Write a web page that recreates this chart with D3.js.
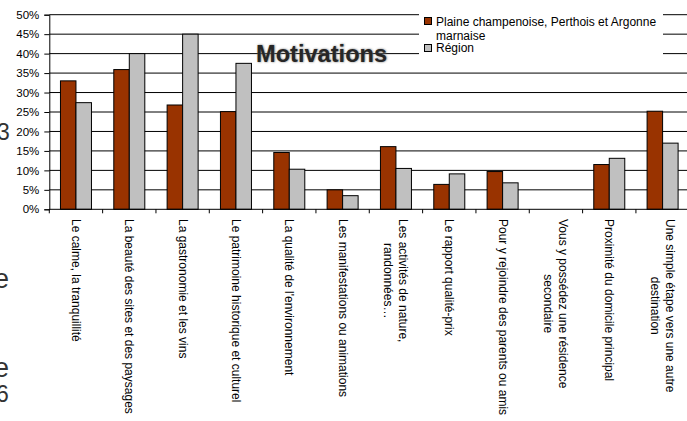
<!DOCTYPE html>
<html><head><meta charset="utf-8">
<script src="https://cdn.jsdelivr.net/npm/d3@7"></script>
<style>
html,body{margin:0;padding:0;background:#fff;}
svg{display:block;font-family:"Liberation Sans",Arial,sans-serif;}
</style></head>
<body>
<svg id="c" width="687" height="421"></svg>
<script>
const categories = [
  ["Le calme, la tranquillité"],
  ["La beauté des sites et des paysages"],
  ["La gastronomie et les vins"],
  ["Le patrimoine historique et culturel"],
  ["La qualité de l'environnement"],
  ["Les manifestations ou animations"],
  ["Les activités de nature,", "randonnées…"],
  ["Le rapport qualité-prix"],
  ["Pour y rejoindre des parents ou amis"],
  ["Vous y possédez une résidence", "secondaire"],
  ["Proximité du domicile principal"],
  ["Une simple étape vers une autre", "destination"]
];
const seriesNames = ["Plaine champenoise, Perthois et Argonne marnaise", "Région"];
const plaine = [33.0, 35.9, 26.8, 25.1, 14.6, 5.0, 16.1, 6.4, 9.7, 0, 11.5, 25.2];
const region = [27.4, 40.0, 45.0, 37.5, 10.3, 3.5, 10.5, 9.1, 6.8, 0, 13.1, 17.0];
const yTicks = [0, 5, 10, 15, 20, 25, 30, 35, 40, 45, 50];
const colors = ["#993300", "#C0C0C0"];
const title = "Motivations";

const svg = d3.select("#c");
const pL = 49.3, pR = 49.3 + 12 * 53.33, pT = 14.7, pB = 209.3;

const defs = svg.append("defs");
defs.append("filter").attr("id", "blur").attr("x", "-10%").attr("y", "-30%").attr("width", "120%").attr("height", "160%")
  .append("feGaussianBlur").attr("stdDeviation", 1.2);

const x = d3.scaleBand().domain(d3.range(categories.length)).range([pL, pR]).padding(0);
const xs = d3.scaleBand().domain([0, 1]).range([0, x.bandwidth()]).paddingInner(0).paddingOuter(0.72);
const y = d3.scaleLinear().domain([0, 50]).range([pB, pT]);

// stray page text on the left edge
const stray = svg.append("g").attr("fill", "#333");
stray.append("text").attr("x", -3).attr("y", 139.5).attr("font-size", 23).text("3");
stray.append("text").attr("x", -6).attr("y", 288).attr("font-size", 27).text("e");
stray.append("text").attr("x", -6).attr("y", 377).attr("font-size", 27).text("e");
stray.append("text").attr("x", -4).attr("y", 402).attr("font-size", 23).text("6");

// gridlines
svg.append("g").selectAll("line").data(yTicks.filter(d => d > 0)).join("line")
  .attr("x1", pL).attr("x2", 687).attr("y1", d => y(d)).attr("y2", d => y(d))
  .attr("stroke", "#000").attr("stroke-width", 1);

// bars
const series = [plaine, region];
series.forEach((vals, si) => {
  svg.append("g").selectAll("rect").data(vals).join("rect")
    .attr("x", (d, i) => x(i) + xs(si))
    .attr("y", d => y(d))
    .attr("width", xs.bandwidth())
    .attr("height", d => y(0) - y(d))
    .attr("fill", colors[si])
    .attr("stroke", "#000").attr("stroke-width", 1)
    .style("display", d => d > 0 ? null : "none");
});

// y axis
const yAxis = d3.axisLeft(y).tickValues(yTicks).tickFormat(d => d + "%").tickSize(5).tickPadding(5);
const ya = svg.append("g").attr("transform", `translate(${pL},0)`).call(yAxis);
ya.select(".domain").attr("stroke", "#000");
ya.selectAll("line").attr("stroke", "#000");
ya.selectAll("text").attr("font-size", 11.5).attr("fill", "#000").style("font-family", "'Liberation Sans',Arial,sans-serif");

// x axis
const xTickPos = d3.range(categories.length + 1).map(i => pL + i * x.step());
const xa = svg.append("g");
xa.append("line").attr("x1", pL).attr("x2", 687).attr("y1", pB).attr("y2", pB).attr("stroke", "#000");
xa.selectAll("line.t").data(xTickPos).join("line").attr("class", "t")
  .attr("x1", d => d).attr("x2", d => d).attr("y1", pB).attr("y2", pB + 4).attr("stroke", "#000");

// x labels (rotated)
const lineH = 15;
const labs = svg.append("g").attr("font-size", 12).attr("fill", "#000");
categories.forEach((lines, i) => {
  const cx = x(i) + x.bandwidth() / 2;
  const n = lines.length;
  const tmp = labs.append("text").text(lines[0]);
  const maxLen = d3.max(lines, l => { tmp.text(l); return tmp.node().getComputedTextLength(); });
  tmp.remove();
  const g = labs.append("g").attr("transform", `translate(${cx},${219 + maxLen / 2}) rotate(90)`);
  lines.forEach((l, k) => {
    g.append("text").attr("x", 0).attr("y", (k - (n - 1) / 2) * lineH)
      .attr("text-anchor", "middle").attr("dominant-baseline", "central").text(l);
  });
});

// legend
const lg = svg.append("g");
lg.append("rect").attr("x", 419).attr("y", 9).attr("width", 244).attr("height", 51).attr("fill", "#fff");
lg.append("rect").attr("x", 424.5).attr("y", 17.5).attr("width", 7).attr("height", 7).attr("fill", colors[0]).attr("stroke", "#000");
lg.append("rect").attr("x", 424.5).attr("y", 44.5).attr("width", 7).attr("height", 7).attr("fill", colors[1]).attr("stroke", "#000");
lg.append("text").attr("x", 436).attr("y", 26).attr("font-size", 12).text("Plaine champenoise, Perthois et Argonne");
lg.append("text").attr("x", 436).attr("y", 40).attr("font-size", 12).text("marnaise");
lg.append("text").attr("x", 436).attr("y", 52).attr("font-size", 12).text(seriesNames[1]);

// title with soft shadow
svg.append("text").attr("x", 256.5).attr("y", 62.2).attr("font-size", 23.6).attr("font-weight", "bold")
  .attr("fill", "#777").attr("filter", "url(#blur)").text(title);
svg.append("text").attr("x", 256).attr("y", 61.7).attr("font-size", 23.6).attr("font-weight", "bold")
  .attr("fill", "#262626").text(title);
</script>
</body></html>
